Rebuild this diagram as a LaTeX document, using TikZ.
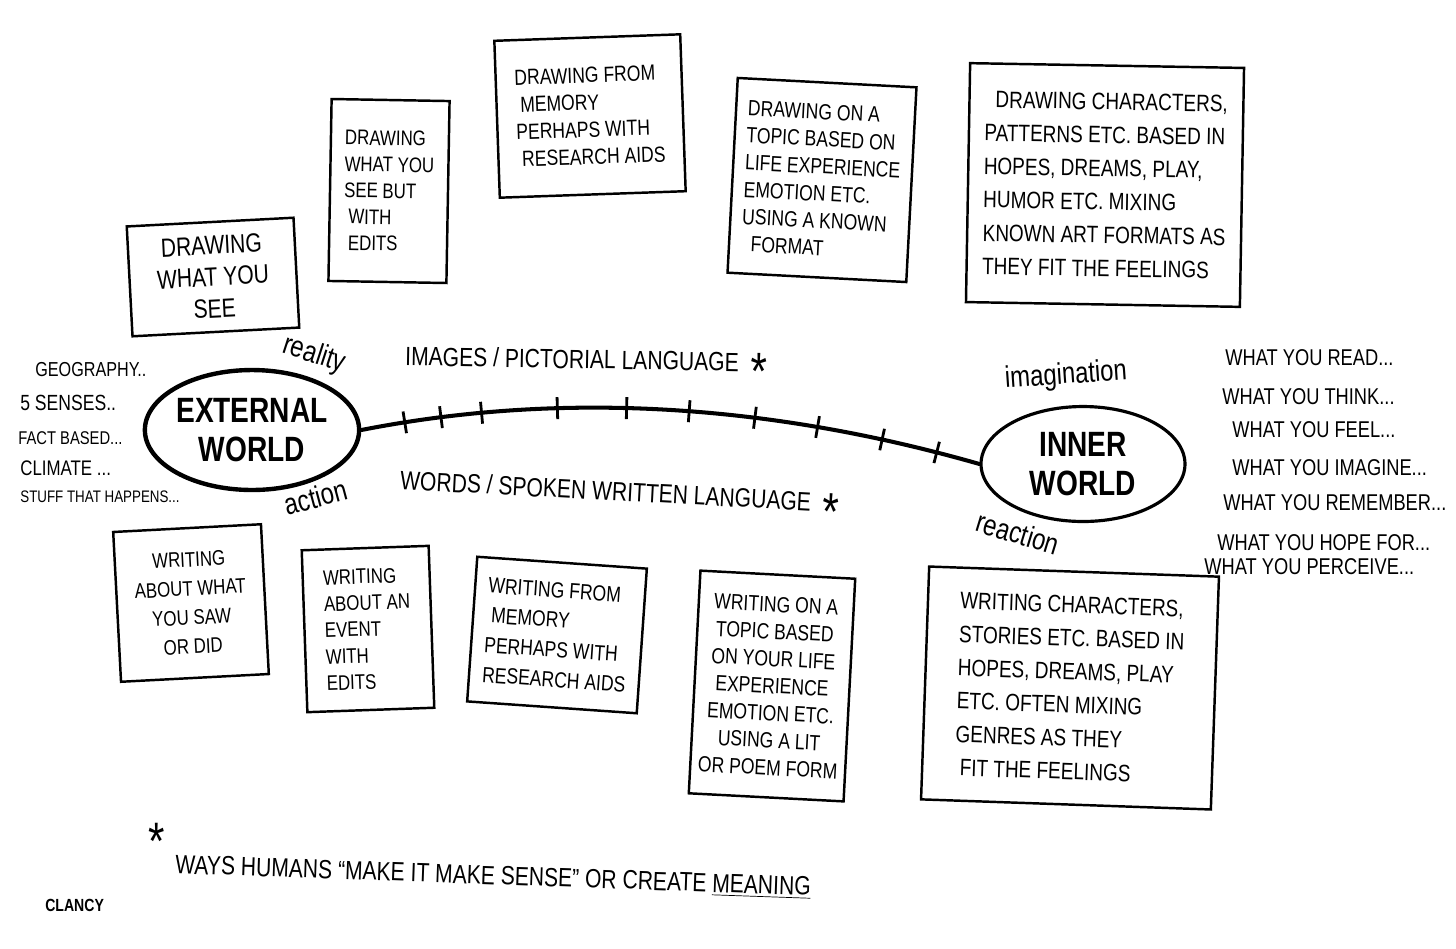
\documentclass[tikz,border=0pt]{standalone}
\usepackage{fontspec}
\setmainfont{Liberation Sans}[FakeStretch=0.8]
\usetikzlibrary{shapes.geometric}

\newcommand{\bigast}{\raisebox{-10pt}[0pt][0pt]{\fontsize{30}{30}\selectfont *}}

\tikzset{
  sketchbox/.style={draw, line width=1.4pt, inner sep=0pt, align=left, font=\fontsize{12.5}{15.5}\selectfont},
  world/.style={ellipse, draw, inner sep=0pt, align=center, font=\bfseries\fontsize{20}{22}\selectfont},
  link/.style={line width=2.3pt, line cap=round},
  tick/.style={draw, line width=1.6pt, minimum width=0pt, minimum height=0.44cm, inner sep=0pt, sloped},
  listitem/.style={anchor=west, inner sep=0pt, font=\fontsize{#1}{#1}\selectfont},
  listitem/.default=13,
  lbl/.style={inner sep=0pt, font=\fontsize{17}{17}\selectfont},
  heading/.style={anchor=west, inner sep=0pt, font=\fontsize{15}{18}\selectfont}
}

\begin{document}
\begin{tikzpicture}[x=0.02cm, y=-0.02cm]
\useasboundingbox[fill=white] (0,0) rectangle (1456,948);

\node[sketchbox, align=center, minimum width=3.34cm, minimum height=2.2cm, rotate=3, font=\fontsize{15}{18}\selectfont] (dsee) at (213,277) {DRAWING\\WHAT YOU\\SEE};
\node[sketchbox, minimum width=2.36cm, minimum height=3.64cm, rotate=-1, font=\fontsize{12}{15}\selectfont] (dedit) at (389,191) {DRAWING\\WHAT YOU\\SEE BUT\\\ WITH\\\ EDITS};
\node[sketchbox, minimum width=3.72cm, minimum height=3.14cm, rotate=2] (dmem) at (590,116) {DRAWING FROM\\\ MEMORY\\PERHAPS WITH\\\ RESEARCH AIDS};
\node[sketchbox, minimum width=3.58cm, minimum height=3.9cm, rotate=-3] (dtopic) at (822,180) {DRAWING ON A\\TOPIC BASED ON\\LIFE EXPERIENCE\\EMOTION ETC.\\USING A KNOWN\\\ \ FORMAT};
\node[sketchbox, minimum width=5.48cm, minimum height=4.78cm, rotate=-1, font=\fontsize{13.5}{19}\selectfont] (dchar) at (1105,185) {\ \ DRAWING CHARACTERS,\\PATTERNS ETC. BASED IN\\HOPES, DREAMS, PLAY,\\HUMOR ETC. MIXING\\KNOWN ART FORMATS AS\\THEY FIT THE FEELINGS};

\node[sketchbox, align=center, minimum width=2.96cm, minimum height=3cm, rotate=3, font=\fontsize{12}{16.5}\selectfont] (wsaw) at (191,603) {WRITING\\ABOUT WHAT\\YOU SAW\\OR DID};
\node[sketchbox, minimum width=2.54cm, minimum height=3.24cm, rotate=2, font=\fontsize{12}{15}\selectfont] (wedit) at (368,629) {WRITING\\ABOUT AN\\EVENT\\WITH\\EDITS};
\node[sketchbox, minimum width=3.4cm, minimum height=2.9cm, rotate=-4, font=\fontsize{12.5}{17}\selectfont] (wmem) at (557,635) {WRITING FROM\\\ MEMORY\\PERHAPS WITH\\RESEARCH AIDS};
\node[sketchbox, align=center, minimum width=3.1cm, minimum height=4.46cm, rotate=-3] (wtopic) at (772,686) {WRITING ON A\\TOPIC BASED\\ON YOUR LIFE\\EXPERIENCE\\EMOTION ETC.\\USING A LIT\\OR POEM FORM};
\node[sketchbox, minimum width=5.8cm, minimum height=4.66cm, rotate=-2, font=\fontsize{13.5}{19}\selectfont] (wchar) at (1070,688) {WRITING CHARACTERS,\\STORIES ETC. BASED IN\\HOPES, DREAMS, PLAY\\ETC. OFTEN MIXING\\GENRES AS THEY\\\ FIT THE FEELINGS};

\node[world, line width=2.5pt, minimum width=4.12cm, minimum height=2.4cm] (ext) at (252,430) {EXTERNAL\\WORLD};
\node[world, line width=1.8pt, minimum width=4.08cm, minimum height=2.3cm] (inner) at (1083,464) {INNER\\WORLD};

\draw[link] (ext.east) .. controls (565,390) and (773,405) .. (inner.west)
  \foreach \p in {0.071,0.130,0.196,0.319,0.431,0.532,0.638,0.739,0.843,0.931} {node[tick, pos=\p] {}};

\node[lbl, rotate=-18] (real) at (314,355) {reality};
\node[lbl, rotate=15] (act) at (316,497) {action};
\node[lbl, rotate=4] (imag) at (1066,376) {imagination};
\node[lbl, rotate=-17] (react) at (1018,533) {reaction};

\node[heading, rotate=-1] (images) at (405,356) {IMAGES / PICTORIAL LANGUAGE \ \bigast};
\node[heading, rotate=-3] (words) at (400,480) {WORDS / SPOKEN WRITTEN LANGUAGE \ \bigast};

\node[listitem=11.5] (geo) at (35,370) {GEOGRAPHY..};
\node[listitem=12.5] (sens) at (20,403) {5 SENSES..};
\node[listitem=10.5] (fact) at (18,438) {FACT BASED...};
\node[listitem=12] (clim) at (20,468) {CLIMATE ...};
\node[listitem=9.5] (stuff) at (20,497) {STUFF THAT HAPPENS...};

\node[listitem] (read) at (1225,358) {WHAT YOU READ...};
\node[listitem] (think) at (1222,397) {WHAT YOU THINK...};
\node[listitem] (feel) at (1232,430) {WHAT YOU FEEL...};
\node[listitem] (imagine) at (1232,468) {WHAT YOU IMAGINE...};
\node[listitem] (remem) at (1223,503) {WHAT YOU REMEMBER...};
\node[listitem] (hope) at (1217,543) {WHAT YOU HOPE FOR...};
\node[listitem] (perc) at (1204,567) {WHAT YOU PERCEIVE...};

\node[inner sep=0pt] (fnast) at (157,842) {\bigast};
\node[heading, rotate=-2] (fn) at (175,866) {WAYS HUMANS ``MAKE IT MAKE SENSE'' OR CREATE \underline{MEANING}};
\node[listitem=10, font=\bfseries\fontsize{10}{10}\selectfont] (sign) at (45,905) {CLANCY};
\end{tikzpicture}
\end{document}
